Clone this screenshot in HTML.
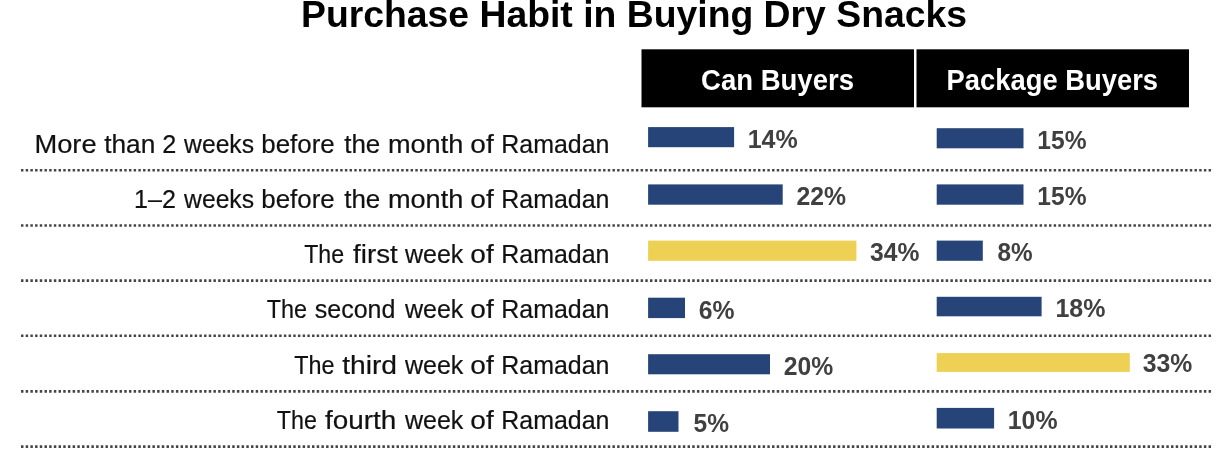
<!DOCTYPE html>
<html lang="en"><head><meta charset="utf-8"><title>Purchase Habit in Buying Dry Snacks</title>
<style>
html,body{margin:0;padding:0;background:#fff;}
body{width:1218px;height:452px;overflow:hidden;}
svg{display:block;filter:blur(0.45px);}
text{font-family:"Liberation Sans",Arial,sans-serif;}
.t{font-weight:700;font-size:37.1px;fill:#000;}
.h{font-weight:700;font-size:28.8px;fill:#fff;}
.l{font-size:25.2px;fill:#111;stroke:#111;stroke-width:0.2;}
.v{font-weight:700;font-size:25.6px;fill:#404040;}
.d{stroke:#454545;stroke-width:2.6;stroke-dasharray:2.45 2.244;fill:none;}
</style></head><body>
<svg width="1218" height="452" viewBox="0 0 1218 452">
<rect width="1218" height="452" fill="#fff"/>
<text class="t" x="301" y="26.9" textLength="666" lengthAdjust="spacingAndGlyphs">Purchase Habit in Buying Dry Snacks</text>
<rect x="641.5" y="49.3" width="272.5" height="58" fill="#000"/>
<rect x="916.5" y="49.3" width="272.5" height="58" fill="#000"/>
<text class="h" x="701" y="89.8" textLength="153" lengthAdjust="spacingAndGlyphs">Can Buyers</text>
<text class="h" x="946.6" y="89.8" textLength="211.4" lengthAdjust="spacingAndGlyphs">Package Buyers</text>
<line class="d" x1="21" y1="170.3" x2="1212" y2="170.3"/>
<line class="d" x1="21" y1="225.5" x2="1212" y2="225.5"/>
<line class="d" x1="21" y1="280.6" x2="1212" y2="280.6"/>
<line class="d" x1="21" y1="335.8" x2="1212" y2="335.8"/>
<line class="d" x1="21" y1="391.4" x2="1212" y2="391.4"/>
<line class="d" x1="21" y1="446.6" x2="1212" y2="446.6"/>
<text class="l" y="153.0"><tspan x="34.42" textLength="62.21" lengthAdjust="spacingAndGlyphs">More</tspan> <tspan x="104.21" textLength="51.14" lengthAdjust="spacingAndGlyphs">than</tspan> <tspan x="162.24" textLength="14.06" lengthAdjust="spacingAndGlyphs">2</tspan> <tspan x="184.10" textLength="69.95" lengthAdjust="spacingAndGlyphs">weeks</tspan> <tspan x="261.22" textLength="73.46" lengthAdjust="spacingAndGlyphs">before</tspan> <tspan x="344.21" textLength="36.06" lengthAdjust="spacingAndGlyphs">the</tspan> <tspan x="387.94" textLength="75.41" lengthAdjust="spacingAndGlyphs">month</tspan> <tspan x="470.38" textLength="23.39" lengthAdjust="spacingAndGlyphs">of</tspan> <tspan x="501.30" textLength="108.14" lengthAdjust="spacingAndGlyphs">Ramadan</tspan></text>
<text class="l" y="208.1"><tspan x="134.12" textLength="41.82" lengthAdjust="spacingAndGlyphs">1–2</tspan> <tspan x="184.10" textLength="69.95" lengthAdjust="spacingAndGlyphs">weeks</tspan> <tspan x="261.22" textLength="73.46" lengthAdjust="spacingAndGlyphs">before</tspan> <tspan x="344.21" textLength="36.06" lengthAdjust="spacingAndGlyphs">the</tspan> <tspan x="387.94" textLength="75.41" lengthAdjust="spacingAndGlyphs">month</tspan> <tspan x="470.38" textLength="23.39" lengthAdjust="spacingAndGlyphs">of</tspan> <tspan x="501.30" textLength="108.14" lengthAdjust="spacingAndGlyphs">Ramadan</tspan></text>
<text class="l" y="263.2"><tspan x="304.14" textLength="39.88" lengthAdjust="spacingAndGlyphs">The</tspan> <tspan x="353.08" textLength="44.58" lengthAdjust="spacingAndGlyphs">first</tspan> <tspan x="405.00" textLength="58.39" lengthAdjust="spacingAndGlyphs">week</tspan> <tspan x="470.38" textLength="23.39" lengthAdjust="spacingAndGlyphs">of</tspan> <tspan x="501.30" textLength="108.14" lengthAdjust="spacingAndGlyphs">Ramadan</tspan></text>
<text class="l" y="318.1"><tspan x="266.83" textLength="40.29" lengthAdjust="spacingAndGlyphs">The</tspan> <tspan x="314.85" textLength="80.57" lengthAdjust="spacingAndGlyphs">second</tspan> <tspan x="405.00" textLength="58.39" lengthAdjust="spacingAndGlyphs">week</tspan> <tspan x="470.38" textLength="23.39" lengthAdjust="spacingAndGlyphs">of</tspan> <tspan x="501.30" textLength="108.14" lengthAdjust="spacingAndGlyphs">Ramadan</tspan></text>
<text class="l" y="373.6"><tspan x="294.13" textLength="40.29" lengthAdjust="spacingAndGlyphs">The</tspan> <tspan x="342.18" textLength="54.87" lengthAdjust="spacingAndGlyphs">third</tspan> <tspan x="405.00" textLength="58.39" lengthAdjust="spacingAndGlyphs">week</tspan> <tspan x="470.38" textLength="23.39" lengthAdjust="spacingAndGlyphs">of</tspan> <tspan x="501.30" textLength="108.14" lengthAdjust="spacingAndGlyphs">Ramadan</tspan></text>
<text class="l" y="429.4"><tspan x="276.83" textLength="40.09" lengthAdjust="spacingAndGlyphs">The</tspan> <tspan x="324.98" textLength="71.29" lengthAdjust="spacingAndGlyphs">fourth</tspan> <tspan x="405.00" textLength="58.39" lengthAdjust="spacingAndGlyphs">week</tspan> <tspan x="470.38" textLength="23.39" lengthAdjust="spacingAndGlyphs">of</tspan> <tspan x="501.30" textLength="108.14" lengthAdjust="spacingAndGlyphs">Ramadan</tspan></text>
<rect x="648.1" y="127.1" width="86.0" height="20.1" fill="#264478"/>
<text class="v" transform="translate(747.67,147.6) scale(0.9776,1)">14%</text>
<rect x="648.1" y="184.4" width="134.6" height="20.3" fill="#264478"/>
<text class="v" transform="translate(796.43,205.1) scale(0.9685,1)">22%</text>
<rect x="648.1" y="240.6" width="208.3" height="20.2" fill="#EDD054"/>
<text class="v" transform="translate(870.08,261.2) scale(0.9635,1)">34%</text>
<rect x="648.1" y="297.7" width="36.9" height="20.4" fill="#264478"/>
<text class="v" transform="translate(698.73,318.5) scale(0.9674,1)">6%</text>
<rect x="648.1" y="354.2" width="121.9" height="20.1" fill="#264478"/>
<text class="v" transform="translate(783.63,374.7) scale(0.9665,1)">20%</text>
<rect x="648.1" y="411.2" width="30.4" height="20.6" fill="#264478"/>
<text class="v" transform="translate(693.56,432.2) scale(0.9583,1)">5%</text>
<rect x="936.7" y="128.2" width="86.8" height="20.1" fill="#264478"/>
<text class="v" transform="translate(1037.30,148.7) scale(0.9612,1)">15%</text>
<rect x="936.7" y="184.4" width="86.8" height="20.3" fill="#264478"/>
<text class="v" transform="translate(1037.30,205.1) scale(0.9612,1)">15%</text>
<rect x="936.7" y="240.6" width="46.1" height="20.2" fill="#264478"/>
<text class="v" transform="translate(997.57,261.2) scale(0.9499,1)">8%</text>
<rect x="936.7" y="296.8" width="104.9" height="19.5" fill="#264478"/>
<text class="v" transform="translate(1055.38,316.7) scale(0.9755,1)">18%</text>
<rect x="936.7" y="353.1" width="193.1" height="18.8" fill="#EDD054"/>
<text class="v" transform="translate(1142.68,372.3) scale(0.9675,1)">33%</text>
<rect x="936.7" y="407.9" width="57.4" height="20.6" fill="#264478"/>
<text class="v" transform="translate(1007.78,428.9) scale(0.9714,1)">10%</text>
</svg>
</body></html>
